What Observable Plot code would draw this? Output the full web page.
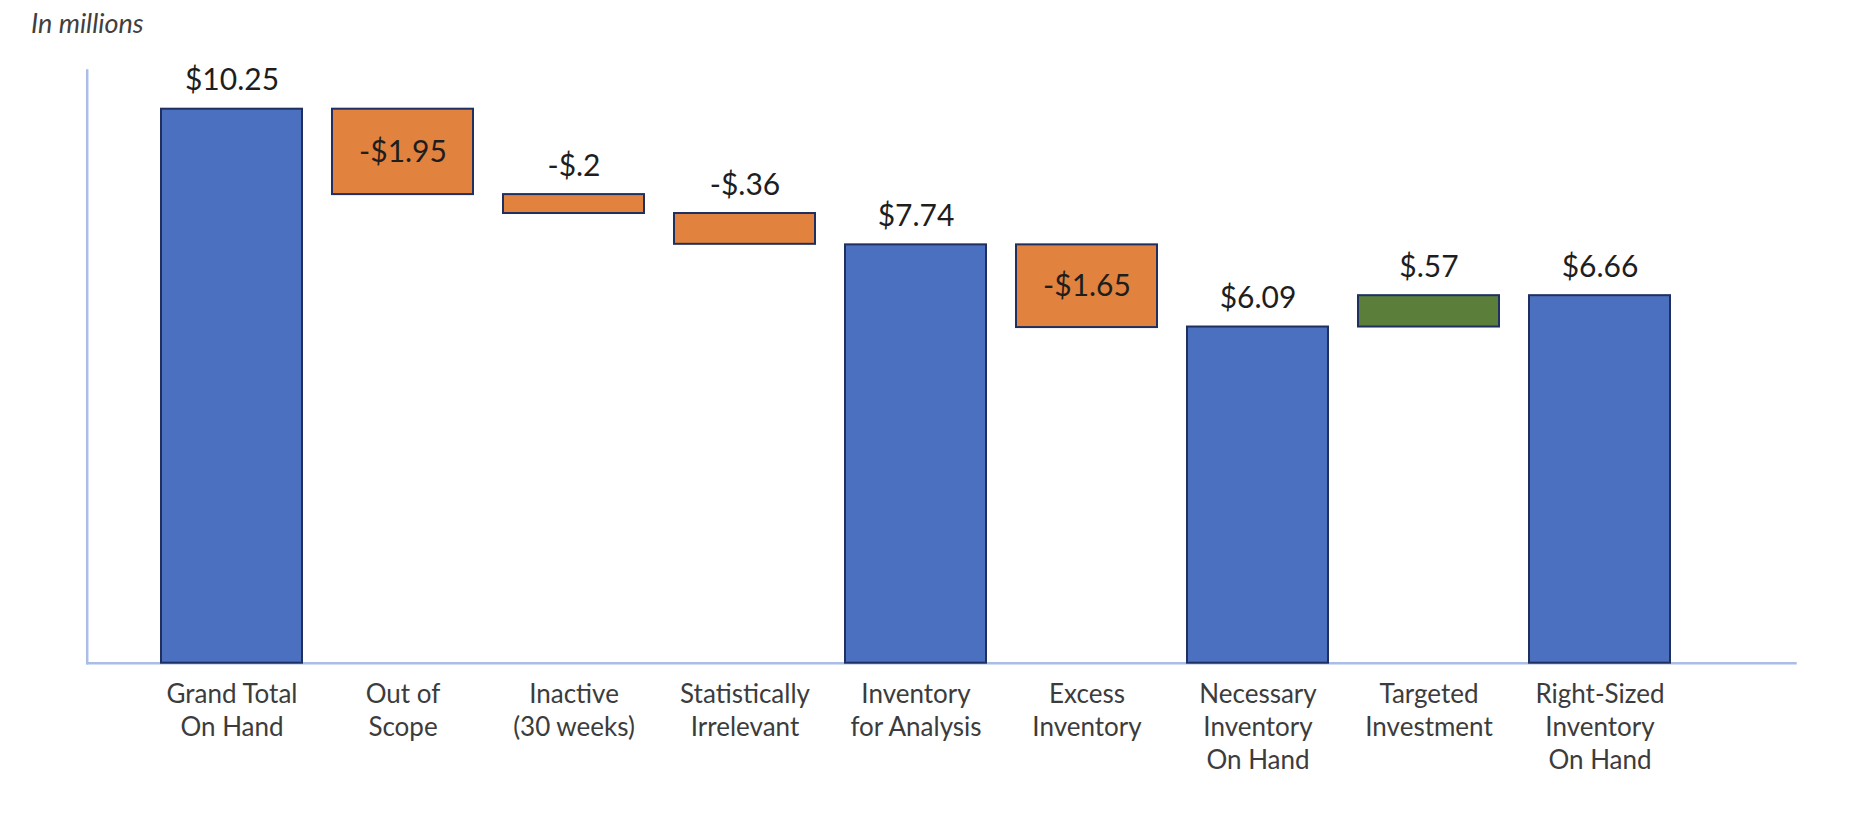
<!DOCTYPE html>
<html>
<head>
<meta charset="utf-8">
<script src="https://cdn.jsdelivr.net/npm/d3@7"></script>
<script src="https://cdn.jsdelivr.net/npm/@observablehq/plot@0.6"></script>
<style>
  html, body { margin: 0; padding: 0; background: #ffffff; }
  #wrap { position: relative; width: 1862px; height: 824px; overflow: hidden; }
  #note { position: absolute; left: 31px; top: 9px; font-family: Lato, "Open Sans", sans-serif;
          font-style: italic; font-size: 27px; line-height: 1; color: #404040; white-space: nowrap; }
  #chart svg { display: block; }
</style>
</head>
<body>
<div id="wrap">
  <div id="chart"></div>
  <div id="note">In millions</div>
</div>
<script>
// ---- data ----
const categories = [
  "Grand Total\nOn Hand",
  "Out of\nScope",
  "Inactive\n(30 weeks)",
  "Statistically\nIrrelevant",
  "Inventory\nfor Analysis",
  "Excess\nInventory",
  "Necessary\nInventory\nOn Hand",
  "Targeted\nInvestment",
  "Right-Sized\nInventory\nOn Hand"
];
// bar sizes as drawn (totals are absolute, others are changes)
const values = [10.25, -1.58, -0.35, -0.57, 7.74, -1.53, 6.22, 0.58, 6.80];
const kinds = ["total", "decrease", "decrease", "decrease", "total", "decrease", "total", "increase", "total"];
const valueLabels = ["$10.25", "-$1.95", "-$.2", "-$.36", "$7.74", "-$1.65", "$6.09", "$.57", "$6.66"];
const kindOrder = ["total", "decrease", "increase"];
const kindColors = ["#4A70BF", "#E1833F", "#5B7E3A"];

// ---- waterfall table ----
let running = 0;
const rows = categories.map((cat, i) => {
  let y1, y2;
  if (kinds[i] === "total") { y1 = 0; y2 = values[i]; running = values[i]; }
  else { y1 = running; y2 = running + values[i]; running = y2; }
  const inside = kinds[i] !== "total" && Math.abs(values[i]) > 1;
  return {cat, kind: kinds[i], y1, y2, top: Math.max(y1, y2), mid: (y1 + y2) / 2, label: valueLabels[i], inside};
});

const axisColor = "#A9BDE6";
const font = "Lato, 'Open Sans', sans-serif";

const chart = Plot.plot({
  width: 1862,
  height: 824,
  marginLeft: 86.7,
  marginRight: 65.3,
  marginTop: 70,
  marginBottom: 161.3,
  style: {fontFamily: font, background: "#ffffff"},
  x: {domain: categories, range: [146, 1685], paddingInner: 0.175, paddingOuter: 0.0875, axis: null},
  y: {domain: [0, 10.25], range: [662.7, 108.7], axis: null},
  color: {domain: kindOrder, range: kindColors},
  marks: [
    Plot.frame({anchor: "left", stroke: axisColor, strokeWidth: 2.5}),
    Plot.ruleY([0], {stroke: axisColor, strokeWidth: 2.5}),
    Plot.barY(rows, {x: "cat", y1: "y1", y2: "y2", fill: "kind", stroke: "#1F3060", strokeWidth: 2}),
    Plot.text(rows.filter(d => !d.inside), {
      x: "cat", y: "top", text: "label", dy: -19, lineAnchor: "bottom",
      fontSize: 30, fill: "#1e1e1e", fontFamily: font
    }),
    Plot.text(rows.filter(d => d.inside), {
      x: "cat", y: "mid", text: "label", lineAnchor: "middle",
      fontSize: 30, fill: "#1e1e1e", fontFamily: font
    }),
    Plot.text(rows, {
      x: "cat", y: 0, text: "cat", dy: 16, lineAnchor: "top", lineHeight: 1.27,
      fontSize: 26, fill: "#3c3c3c", fontFamily: font
    })
  ]
});
document.getElementById("chart").appendChild(chart);
</script>
</body>
</html>
